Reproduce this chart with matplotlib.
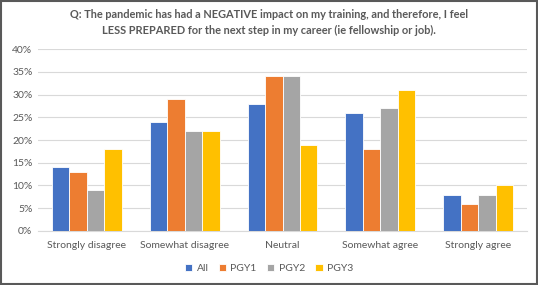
import numpy as np
import matplotlib
matplotlib.use('Agg')
from matplotlib import pyplot as plt
from matplotlib.patches import Rectangle

categories = ['Strongly disagree', 'Somewhat disagree', 'Neutral',
              'Somewhat agree', 'Strongly agree']
series_names = ['All', 'PGY1', 'PGY2', 'PGY3']
all_vals = [14, 24, 28, 26, 8]
pgy1_vals = [13, 29, 34, 18, 6]
pgy2_vals = [9, 22, 34, 27, 8]
pgy3_vals = [18, 22, 19, 31, 10]
colors = ['#4472C4', '#ED7D31', '#A5A5A5', '#FFC000']

plt.rcParams['font.family'] = ['Lato', 'DejaVu Sans']

fig = plt.figure(figsize=(5.38, 2.85), dpi=100)
ax = fig.add_axes([0.0706, 0.1895, 0.909, 0.6385])

x = np.arange(len(categories))
w = 0.178
for i, (vals, name, c) in enumerate(zip([all_vals, pgy1_vals, pgy2_vals, pgy3_vals],
                                        series_names, colors)):
    ax.bar(x + (i - 1.5) * w, vals, width=w, color=c, edgecolor='white',
           linewidth=0.6, label=name, zorder=3)

ax.set_xlim(-0.5, len(categories) - 0.5)
ax.set_ylim(0, 40)
ax.set_yticks(range(0, 41, 5))
ax.set_yticklabels([f'{v}%' for v in range(0, 41, 5)])
ax.set_xticks(x)
ax.set_xticklabels(categories)
ax.tick_params(axis='both', length=0, labelsize=7.5, colors='#595959')
ax.tick_params(axis='x', pad=7)
ax.tick_params(axis='y', pad=4)
ax.grid(axis='y', color='#D9D9D9', linewidth=0.8, zorder=0)
for s in ['top', 'right', 'left']:
    ax.spines[s].set_visible(False)
ax.spines['bottom'].set_color('#D9D9D9')

fig.text(0.5, 0.967, 'Q: The pandemic has had a NEGATIVE impact on my training, and therefore, I feel\n'
         'LESS PREPARED for the next step in my career (ie fellowship or job).',
         ha='center', va='top', fontsize=7.9, fontweight='bold', color='#595959',
         linespacing=1.45)

fig.legend(loc='center', bbox_to_anchor=(0.5, 0.058), ncol=4, frameon=False,
           fontsize=7.5, handlelength=0.7, handleheight=0.7, handletextpad=0.4,
           columnspacing=1.0, labelcolor='#595959')

fig.add_artist(Rectangle((0.002, 0.003), 0.996, 0.994, transform=fig.transFigure,
                         fill=False, edgecolor='#595959', linewidth=1.5))

fig.savefig('out.png', dpi=100)
